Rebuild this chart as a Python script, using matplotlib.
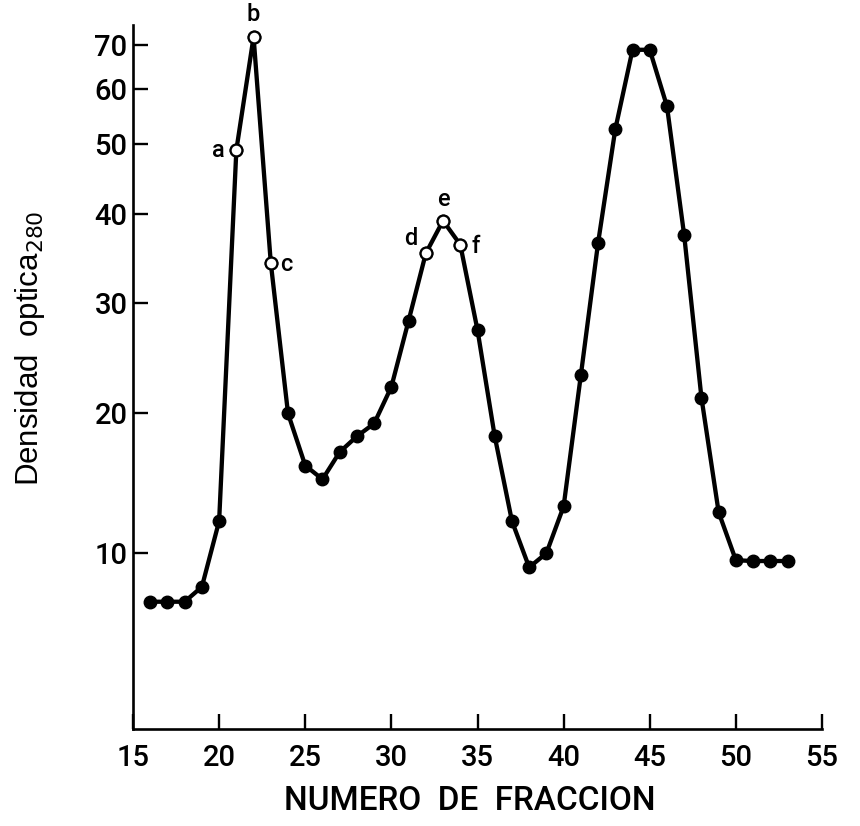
import numpy as np
import matplotlib
matplotlib.use("Agg")
import matplotlib.pyplot as plt

# ---- data ----
fractions = [16, 17, 18, 19, 20, 21, 22, 23, 24, 25, 26, 27, 28, 29, 30,
             31, 32, 33, 34, 35, 36, 37, 38, 39, 40, 41, 42, 43, 44, 45,
             46, 47, 48, 49, 50, 51, 52, 53]
density = [7.0, 7.0, 7.0, 7.9, 12.1, 49.1, 72.0, 34.2, 20.0, 16.0, 15.0, 17.0,
           18.2, 19.2, 22.2, 28.2, 35.3, 39.2, 36.3, 27.3, 18.2, 12.1, 9.1,
           10.0, 13.1, 23.2, 36.5, 52.5, 68.7, 68.7, 56.6, 37.4, 21.3, 12.7,
           9.55, 9.5, 9.5, 9.5]
open_fracs = [21, 22, 23, 32, 33, 34]
open_labels = ["a", "b", "c", "d", "e", "f"]
x_ticks = [15, 20, 25, 30, 35, 40, 45, 50, 55]
y_ticks = [10, 20, 30, 40, 50, 60, 70]

# scale: linear in transmittance (10^(-v/100))
def fwd(v):
    v = np.asarray(v, dtype=float)
    return -np.power(10.0, -v / 100.0)

def inv(t):
    t = np.asarray(t, dtype=float)
    t = np.clip(-t, 1e-9, None)
    return -100.0 * np.log10(t)

fig = plt.figure(figsize=(8.6, 8.26), dpi=100)
ax = fig.add_axes([133/860, 1 - 729/826, (822-133)/860, (729-25)/826])
ax.set_yscale('function', functions=(fwd, inv))

fr = np.array(fractions)
de = np.array(density)
ax.plot(fr, de, color='black', lw=3.1, zorder=2,
        marker='o', ms=9, mfc='black', mec='black')
mask = np.isin(fr, open_fracs)
ax.plot(fr[mask], de[mask], ls='none', marker='o', ms=8.5, mfc='white',
        mec='black', mew=1.6, zorder=3)

offsets = {"a": (-13, 0), "b": (0, 16), "c": (11, -1),
           "d": (-11, 11), "e": (0, 15), "f": (11, -1)}
for f, lab in zip(open_fracs, open_labels):
    v = de[fr == f][0]
    ax.annotate(lab, (f, v), xytext=offsets[lab], textcoords='offset points',
                ha='center', va='center', fontsize=17, family='Roboto',
                fontweight='medium')

ax.set_xlim(15, 55)
ax.set_ylim(0, 75.3)
ax.set_xticks(x_ticks)
ax.set_yticks(y_ticks)
ax.yaxis.set_minor_locator(matplotlib.ticker.NullLocator())
ax.set_xticklabels([str(t) for t in x_ticks])
ax.set_yticklabels([str(t) for t in y_ticks])

for s in ['top', 'right']:
    ax.spines[s].set_visible(False)
for s in ['left', 'bottom']:
    ax.spines[s].set_linewidth(1.9)

ax.tick_params(axis='both', direction='in', length=11, width=1.7,
               labelsize=21)
ax.tick_params(axis='x', pad=11)
ax.tick_params(axis='y', pad=4)
for lab in ax.get_xticklabels() + ax.get_yticklabels():
    lab.set_family('Roboto')
    lab.set_fontweight('medium')

fig.text(470/860, 1 - 801/826, "NUMERO  DE  FRACCION", ha='center',
         va='center', fontsize=24, family='Roboto', fontweight='medium')
fig.text(30/860, 1 - 348/826, r"Densidad  optica$_{280}$", ha='center',
         va='center', rotation=90, fontsize=22.5, family='Liberation Sans')

fig.savefig("out.png", dpi=100, facecolor='white')
